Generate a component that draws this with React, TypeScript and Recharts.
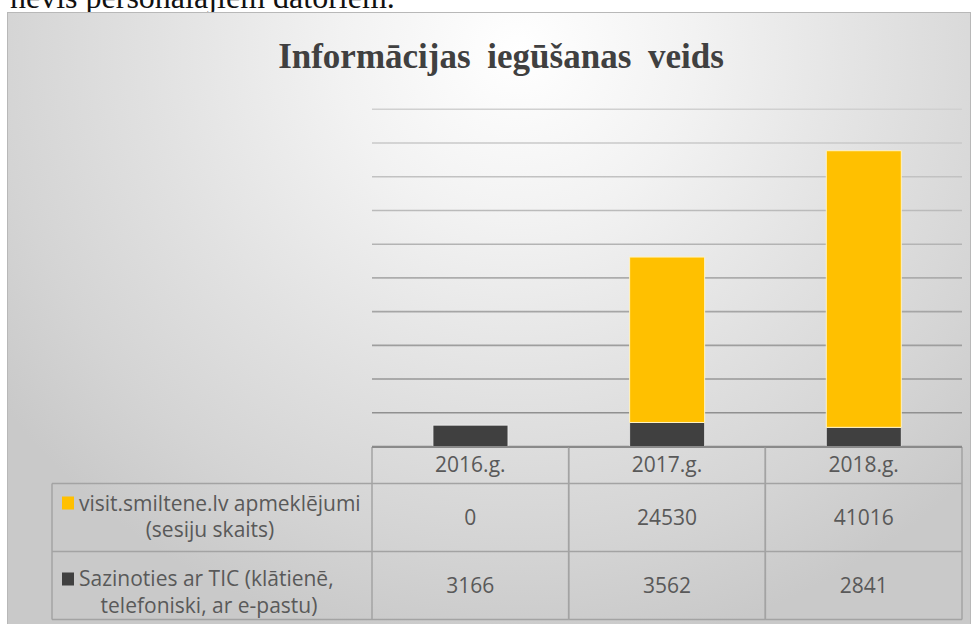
import React from 'react';
import { BarChart, Bar, XAxis, YAxis, CartesianGrid } from 'recharts';

const categories = ['2016.g.', '2017.g.', '2018.g.'];
const visitSessions = [0, 24530, 41016];
const ticContacts = [3166, 3562, 2841];
const yTicks = [0, 5000, 10000, 15000, 20000, 25000, 30000, 35000, 40000, 45000, 50000];
const visitLabelLines = ['visit.smiltene.lv apmeklējumi', '(sesiju skaits)'];
const ticLabelLines = ['Sazinoties ar TIC (klātienē,', 'telefoniski, ar e-pastu)'];
const titleText = 'Informācijas iegūšanas veids';
const pageText = 'nevis personālajiem datoriem.';

const YELLOW = '#FFC000';
const DARK = '#404040';

const data = categories.map((c, i) => ({
  cat: c,
  visit: visitSessions[i],
  tic: ticContacts[i],
}));

const PLOT_LEFT = 372;
const PLOT_RIGHT = 962;
const COL_W = (PLOT_RIGHT - PLOT_LEFT) / categories.length;
const LEGEND_LEFT = 52;

const TXT = '#595959';
const LINE = '#a3a3a3';
const FONT = '"Open Sans", "Noto Sans", sans-serif';

const TableTick = (props: any) => {
  const { x, y, payload } = props;
  const i = payload.index;
  const left = x - COL_W / 2;
  const right = x + COL_W / 2;
  const r1 = y + 0.5;
  const r2 = y + 37;
  const r3 = y + 105;
  const r4 = y + 173;
  const fs = 21;
  return (
    <g>
      <line x1={left} x2={right} y1={r2} y2={r2} stroke={LINE} strokeWidth={1.5} />
      <line x1={left} x2={right} y1={r3} y2={r3} stroke={LINE} strokeWidth={1.5} />
      <line x1={left} x2={right} y1={r4} y2={r4} stroke={LINE} strokeWidth={1.5} />
      <line x1={left} x2={left} y1={r1} y2={r4} stroke={LINE} strokeWidth={1.5} />
      <line x1={right} x2={right} y1={r1} y2={r4} stroke={LINE} strokeWidth={1.5} />
      <line x1={left} x2={right} y1={r1} y2={r1} stroke="#8a8a8a" strokeWidth={1.8} />
      <text x={x} y={y + 25} textAnchor="middle" fill={TXT} fontSize={fs} fontFamily={FONT}>
        {categories[i]}
      </text>
      <text x={x} y={y + 78.5} textAnchor="middle" fill={TXT} fontSize={fs} fontFamily={FONT}>
        {visitSessions[i]}
      </text>
      <text x={x} y={y + 146.5} textAnchor="middle" fill={TXT} fontSize={fs} fontFamily={FONT}>
        {ticContacts[i]}
      </text>
      {i === 0 && (
        <g>
          <line x1={LEGEND_LEFT} x2={left} y1={r2} y2={r2} stroke={LINE} strokeWidth={1.5} />
          <line x1={LEGEND_LEFT} x2={left} y1={r3} y2={r3} stroke={LINE} strokeWidth={1.5} />
          <line x1={LEGEND_LEFT} x2={left} y1={r4} y2={r4} stroke={LINE} strokeWidth={1.5} />
          <line x1={LEGEND_LEFT} x2={LEGEND_LEFT} y1={r2} y2={r4} stroke={LINE} strokeWidth={1.5} />
          <rect x={62} y={y + 50} width={12} height={13} fill={YELLOW} />
          <text x={79} y={y + 64} fill={TXT} fontSize={fs} fontFamily={FONT}>
            {visitLabelLines[0]}
          </text>
          <text x={(LEGEND_LEFT + left) / 2 - 2} y={y + 90.5} textAnchor="middle" fill={TXT} fontSize={fs} fontFamily={FONT}>
            {visitLabelLines[1]}
          </text>
          <rect x={62} y={y + 126} width={12} height={13} fill={DARK} />
          <text x={79} y={y + 139.5} fill={TXT} fontSize={fs} fontFamily={FONT}>
            {ticLabelLines[0]}
          </text>
          <text x={(LEGEND_LEFT + left) / 2 - 3} y={y + 166} textAnchor="middle" fill={TXT} fontSize={fs} fontFamily={FONT}>
            {ticLabelLines[1]}
          </text>
        </g>
      )}
    </g>
  );
};

export default function App() {
  return (
    <div
      style={{
        position: 'fixed',
        left: 0,
        top: 0,
        width: 975,
        height: 624,
        overflow: 'hidden',
        background: '#ffffff',
      }}
    >
      <svg width={975} height={12} style={{ position: 'absolute', left: 0, top: 0, display: 'block' }}>
        <text
          x={10}
          y={8}
          fontFamily='"Liberation Serif", "Times New Roman", serif'
          fontSize={32}
          fill="#111"
        >
          {pageText}
        </text>
      </svg>
      <div
        style={{
          position: 'absolute',
          left: 7,
          top: 12,
          width: 964,
          height: 640,
          boxSizing: 'border-box',
          border: '1px solid #b8b8b8',
          background:
            'radial-gradient(ellipse 66% 95% at 53% 6%, #ffffff 0%, #f2f2f2 28%, #e1e1e1 58%, #d4d4d4 82%, #c9c9c9 100%)',
        }}
      />
      <div
        style={{
          position: 'absolute',
          left: 501,
          top: 39,
          transform: 'translateX(-50%)',
          fontFamily: '"Liberation Serif", "Times New Roman", serif',
          fontWeight: 'bold',
          fontSize: 35,
          lineHeight: '35px',
          wordSpacing: 8,
          color: '#404040',
          whiteSpace: 'nowrap',
        }}
      >
        {titleText}
      </div>
      <div style={{ position: 'absolute', left: 0, top: 0 }}>
        <BarChart
          width={975}
          height={624}
          data={data}
          margin={{ top: 109.3, right: 975 - PLOT_RIGHT, bottom: 0, left: PLOT_LEFT }}
          barCategoryGap="31%"
        >
          <defs>
            <linearGradient id="gridGrad" gradientUnits="userSpaceOnUse" x1="0" y1="100" x2="0" y2="450">
              <stop offset="0%" stopColor="#d2d2d2" />
              <stop offset="100%" stopColor="#888888" />
            </linearGradient>
          </defs>
          <CartesianGrid vertical={false} stroke="url(#gridGrad)" strokeWidth={1.6} />
          <YAxis hide domain={[0, 50000]} ticks={yTicks} />
          <XAxis
            dataKey="cat"
            height={177.5}
            axisLine={false}
            tickLine={false}
            tickSize={0}
            tickMargin={0}
            interval={0}
            tick={<TableTick />}
          />
          <Bar dataKey="tic" stackId="a" fill={DARK} stroke="#f0f0f0" strokeWidth={0.8} isAnimationActive={false} />
          <Bar dataKey="visit" stackId="a" fill={YELLOW} stroke="#fff3c4" strokeWidth={1} isAnimationActive={false} />
        </BarChart>
      </div>
    </div>
  );
}
